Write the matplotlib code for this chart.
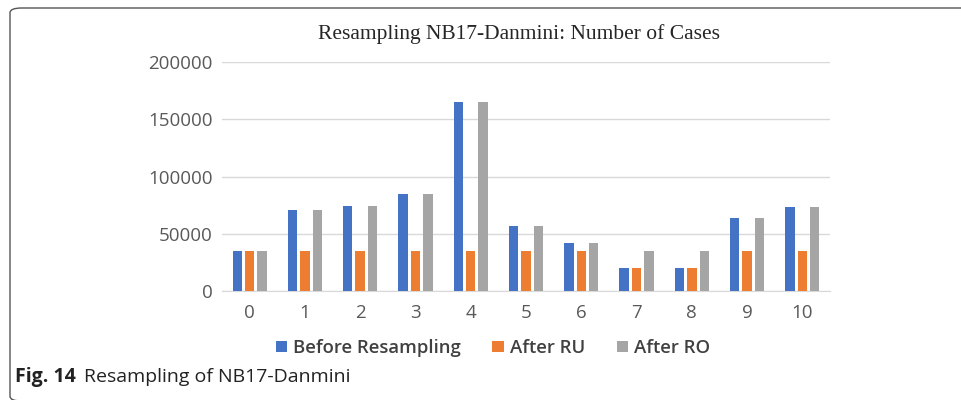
import matplotlib
matplotlib.use('Agg')
import matplotlib.pyplot as plt
import numpy as np
from matplotlib.patches import FancyBboxPatch

categories = ['0', '1', '2', '3', '4', '5', '6', '7', '8', '9', '10']
before = [34500, 71000, 74500, 84500, 165500, 57000, 42000, 20500, 20500, 63500, 73500]
after_ru = [34500, 34500, 34500, 34500, 34500, 34500, 34500, 20500, 20500, 34500, 34500]
after_ro = [34500, 71000, 74500, 84500, 165500, 57000, 42000, 34500, 34500, 63500, 73500]
yticks = [0, 50000, 100000, 150000, 200000]

W, H = 962, 400
fig = plt.figure(figsize=(W / 100, H / 100), dpi=100)

# outer frame with rounded corners (right and bottom run off the picture)
box = FancyBboxPatch((10 / W, -1 / H), 980 / W, 393 / H,
                     boxstyle='round,pad=0,rounding_size=0.012',
                     transform=fig.transFigure, fill=False,
                     edgecolor='#555555', linewidth=1.0, clip_on=False)
fig.patches.append(box)

ax = fig.add_axes([222 / W, 1 - 291 / H, 608 / W, (291 - 62) / H])

x = np.arange(len(categories))
w = 0.17
off = 0.225
ax.bar(x - off, before, w, color='#4472C4', label='Before Resampling', zorder=3)
ax.bar(x, after_ru, w, color='#ED7D31', label='After RU', zorder=3)
ax.bar(x + off, after_ro, w, color='#A5A5A5', label='After RO', zorder=3)

ax.set_xlim(-0.5, len(categories) - 0.5)
ax.set_ylim(0, 200000)
ax.set_yticks(yticks)
ax.set_yticklabels([str(v) for v in yticks])
ax.set_xticks(x)
ax.set_xticklabels(categories)
ax.yaxis.grid(True, color='#D9D9D9', linewidth=1.0, zorder=0)
ax.set_axisbelow(True)
for s in ['top', 'right', 'left']:
    ax.spines[s].set_visible(False)
ax.spines['bottom'].set_color('#D9D9D9')
ax.tick_params(axis='both', length=0, labelsize=13.5, labelcolor='#595959')
ax.tick_params(axis='y', pad=6.5)
ax.tick_params(axis='x', pad=9)
for lab in ax.get_xticklabels() + ax.get_yticklabels():
    lab.set_family('Open Sans')

fig.text(519 / W, 1 - 34 / H, 'Resampling NB17-Danmini: Number of Cases',
         ha='center', va='center', fontsize=15.5, family='Liberation Serif',
         color='#262626')

leg = fig.legend(loc='center', bbox_to_anchor=(493 / W, 1 - 348 / H), ncol=3,
                 frameon=False, handlelength=0.6, handleheight=0.6,
                 handletextpad=0.35, columnspacing=1.7,
                 prop={'family': 'Open Sans', 'size': 13.3, 'weight': 'semibold'})
for t in leg.get_texts():
    t.set_color('#404040')

fig.text(15 / W, 1 - 377 / H, 'Fig. 14', ha='left', va='center', fontsize=14,
         family='Open Sans', weight='bold', color='#222222')
fig.text(84 / W, 1 - 377 / H, 'Resampling of NB17-Danmini', ha='left', va='center',
         fontsize=14, family='Open Sans', color='#222222')

fig.savefig('out.png', dpi=100)
